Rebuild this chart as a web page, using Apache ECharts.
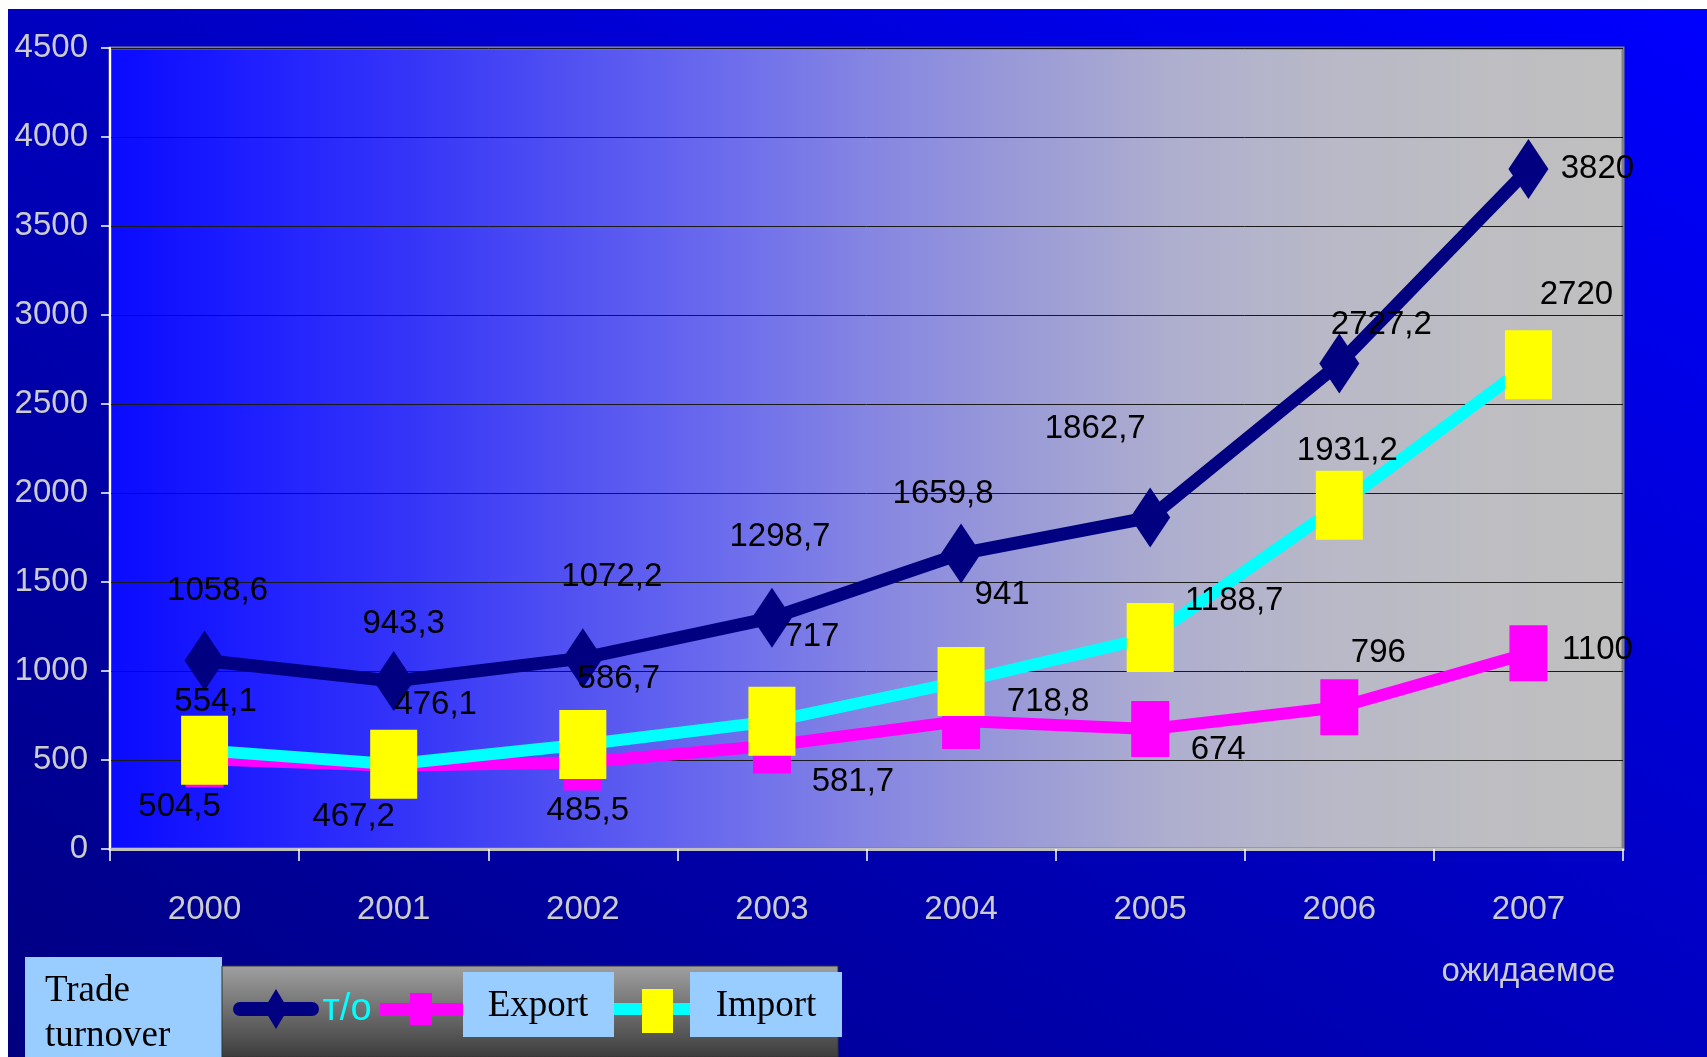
<!DOCTYPE html>
<html><head><meta charset="utf-8">
<script src="https://cdn.jsdelivr.net/npm/echarts@6/dist/echarts.min.js"></script>
<style>
html,body{margin:0;padding:0;background:#fff;}
#bg{position:absolute;left:8px;top:9px;width:1699px;height:1048px;background:linear-gradient(to top right,#000080,#0000FF);}
#chart{position:absolute;left:0;top:0;width:1707px;height:1057px;}
</style></head><body><div id="bg"></div><div id="chart"></div>
<script>
const categories = ['2000','2001','2002','2003','2004','2005','2006','2007\nожидаемое'];
const turnover = [1058.6, 943.3, 1072.2, 1298.7, 1659.8, 1862.7, 2727.2, 3820];
const exportVals = [504.5, 467.2, 485.5, 581.7, 718.8, 674, 796, 1100];
const importVals = [554.1, 476.1, 586.7, 717, 941, 1188.7, 1931.2, 2720];
const seriesNames = ['т/о', 'Export', 'Import'];
const legendTitle = 'Trade\nturnover';
const yMin = 0, yMax = 4500, yStep = 500;

// label nudges (pixels) relative to each marker centre
const turnoverOffsets = [[13,-70],[10,-57],[29,-81],[8,-81],[-18,-60],[-55,-89],[42,-39],[69,0]];
const importOffsets = [[11,-48],[42,-59],[36,-66],[40,-84],[41,-87],[84,-37],[8,-54],[48,-70]];
const exportOffsets = [[-25,48],[-40,51],[5,48],[81,36],[87,-19],[68,21],[39,-54],[69,-3]];

const SANS = '"Liberation Sans",Arial,sans-serif';
const SERIF = '"Liberation Serif","Times New Roman",serif';
const fmt = v => String(v).replace('.', ',');

function mk(vals, offs) {
  return vals.map((v, i) => ({ value: v, label: { offset: offs[i] } }));
}
const labelBase = {
  show: true, position: 'inside', align: 'center', verticalAlign: 'middle',
  color: '#000', fontSize: 33, fontFamily: SANS,
  formatter: p => fmt(p.value)
};

const plotStops = [
  ['#0A0AFF', 0], ['#2020FF', 0.1], ['#3535F8', 0.2], ['#5050F2', 0.3], ['#6A6AEE', 0.4],
  ['#8585E3', 0.5], ['#9A9AD8', 0.6], ['#AEAECF', 0.7], ['#B8B8C8', 0.8], ['#BDBDC3', 0.9], ['#C0C0C0', 1]
].map(s => ({offset: s[1], color: s[0]}));

const chart = echarts.init(document.getElementById('chart'), null, {renderer: 'canvas'});
chart.setOption({
  animation: false,
  backgroundColor: 'transparent',
  grid: {
    left: 110, top: 48, right: 84, bottom: 208,
    show: true, borderColor: '#808080', borderWidth: 3,
    backgroundColor: new echarts.graphic.LinearGradient(0, 0, 1, 0, plotStops)
  },
  xAxis: {
    type: 'category', data: categories, boundaryGap: true,
    axisLine: {show: true, lineStyle: {color: '#C0C0C0', width: 3}},
    axisTick: {show: true, interval: 0, length: 12, lineStyle: {color: '#FFFFFF', width: 1.5}},
    axisLabel: {interval: 0, color: '#CCCCCC', fontSize: 33, fontFamily: SANS, margin: 30, lineHeight: 62}
  },
  yAxis: {
    type: 'value', min: yMin, max: yMax, interval: yStep,
    axisLine: {show: true, lineStyle: {color: '#FFFFFF', width: 2}},
    axisTick: {show: true, length: 9, lineStyle: {color: '#FFFFFF', width: 1.5}},
    axisLabel: {color: '#CCCCCC', fontSize: 33, fontFamily: SANS, margin: 22, formatter: v => String(v)},
    splitLine: {show: true, lineStyle: {color: '#1a1a1a', width: 1}}
  },
  series: [
    {
      name: seriesNames[0], type: 'line', data: mk(turnover, turnoverOffsets),
      symbol: 'diamond', symbolSize: [40, 60], clip: false, z: 2,
      lineStyle: {color: '#000080', width: 13},
      itemStyle: {color: '#000080', borderWidth: 0},
      label: labelBase
    },
    {
      name: seriesNames[1], type: 'line', data: mk(exportVals, exportOffsets),
      symbol: 'rect', symbolSize: [38, 56], clip: false, z: 3,
      lineStyle: {color: '#FF00FF', width: 12},
      itemStyle: {color: '#FF00FF', borderWidth: 0},
      label: labelBase
    },
    {
      name: seriesNames[2], type: 'line', data: mk(importVals, importOffsets),
      symbol: 'rect', symbolSize: [47, 69], clip: false, z: 4,
      lineStyle: {color: '#00FFFF', width: 12},
      itemStyle: {color: '#FFFF00', borderWidth: 0},
      label: labelBase
    }
  ],
  graphic: [
    {type: 'rect', z: 10, shape: {x: 25, y: 957, width: 197, height: 100}, style: {fill: '#99CCFF'}},
    {type: 'text', z: 11, x: 45, y: 969, style: {text: legendTitle, font: '37px ' + SERIF, fill: '#000', lineHeight: 45, textVerticalAlign: 'top'}},
    {type: 'rect', z: 10, shape: {x: 222, y: 966, width: 616, height: 91},
      style: {fill: new echarts.graphic.LinearGradient(0, 0, 0, 1, [{offset: 0, color: '#A0A0A0'}, {offset: 1, color: '#3C3C3C'}]), stroke: '#333', lineWidth: 1}},
    {type: 'line', z: 11, shape: {x1: 240, y1: 1009, x2: 312, y2: 1009}, style: {stroke: '#000080', lineWidth: 14, lineCap: 'round'}},
    {type: 'polygon', z: 12, shape: {points: [[276, 989], [288, 1009], [276, 1029], [264, 1009]]}, style: {fill: '#000080'}},
    {type: 'text', z: 11, x: 347, y: 1010, style: {text: seriesNames[0], font: '38px ' + SANS, fill: '#00FFFF', textAlign: 'center', textVerticalAlign: 'middle'}},
    {type: 'line', z: 11, shape: {x1: 380, y1: 1009, x2: 463, y2: 1009}, style: {stroke: '#FF00FF', lineWidth: 12}},
    {type: 'rect', z: 12, shape: {x: 410, y: 993, width: 22, height: 32}, style: {fill: '#FF00FF'}},
    {type: 'rect', z: 11, shape: {x: 463, y: 972, width: 151, height: 65}, style: {fill: '#99CCFF'}},
    {type: 'text', z: 12, x: 538, y: 1006, style: {text: seriesNames[1], font: '37px ' + SERIF, fill: '#000', textAlign: 'center', textVerticalAlign: 'middle'}},
    {type: 'line', z: 11, shape: {x1: 614, y1: 1009, x2: 690, y2: 1009}, style: {stroke: '#00FFFF', lineWidth: 12}},
    {type: 'rect', z: 12, shape: {x: 642, y: 989, width: 31, height: 44}, style: {fill: '#FFFF00'}},
    {type: 'rect', z: 11, shape: {x: 690, y: 972, width: 152, height: 65}, style: {fill: '#99CCFF'}},
    {type: 'text', z: 12, x: 766, y: 1006, style: {text: seriesNames[2], font: '37px ' + SERIF, fill: '#000', textAlign: 'center', textVerticalAlign: 'middle'}}
  ]
});
</script></body></html>
